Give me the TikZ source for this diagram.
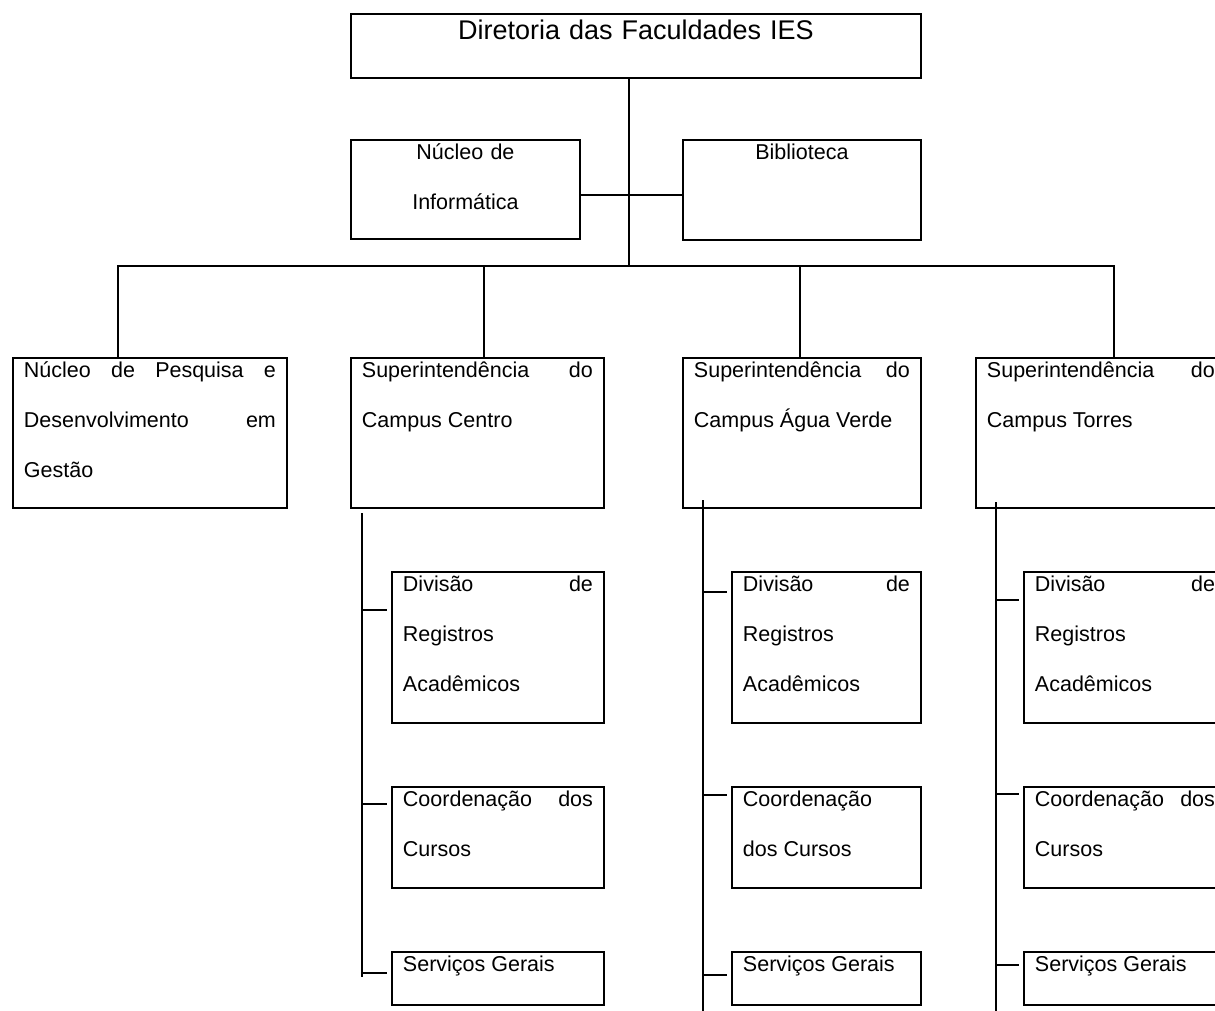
\documentclass[tikz,border=0pt]{standalone}
\usepackage{fontspec}
\setmainfont{Liberation Sans}
\usetikzlibrary{positioning}

\begin{document}
\begin{tikzpicture}[x=1pt, y=-1pt, line width=1.9pt, node distance=62pt,
    font=\fontsize{21.5}{50}\selectfont,
    orgbox/.style 2 args={draw, anchor=north west, inner xsep=11pt, inner ysep=0pt,
        text width=#1-22pt, text height=20pt, text depth=#2-20pt, align=justify}]
\useasboundingbox (0,0) rectangle (1215,1010);
\clip (0,0) rectangle (1215,1010);

    \node[orgbox={570}{64}, align=center, text height=26pt, text depth=38pt, font=\fontsize{27}{50}\selectfont] (diretoria) at (350,13) {Diretoria das Faculdades IES};
    \node[orgbox={229}{99}, align=center] (informatica) at (350,139) {Núcleo de\\Informática};
    \node[orgbox={238}{100}, align=center] (biblioteca) at (682,139) {Biblioteca};

    \node[orgbox={274}{150}] (pesquisa) at (12,357) {Núcleo de Pesquisa e\linebreak Desenvolvimento em\linebreak Gestão};
    \node[orgbox={253}{150}] (centro) at (350,357) {Superintendência do\linebreak Campus Centro};
    \node[orgbox={238}{150}] (aguaverde) at (682,357) {Superintendência do\linebreak Campus Água Verde};
    \node[orgbox={250}{150}] (torres) at (975,357) {Superintendência do\linebreak Campus Torres};

    % campus centro
    \node[orgbox={212}{151}, below right=62pt and 41pt of centro.south west, anchor=north west] (registros-centro) {Divisão de\linebreak Registros\\Acadêmicos};
    \node[orgbox={212}{101}, below=of registros-centro.south west, anchor=north west] (cursos-centro) {Coordenação dos\linebreak Cursos};
    \node[orgbox={212}{53}, below=of cursos-centro.south west, anchor=north west] (servicos-centro) {Serviços Gerais};

    % campus agua verde
    \node[orgbox={189}{151}, below right=62pt and 49pt of aguaverde.south west, anchor=north west] (registros-agua) {Divisão de\linebreak Registros\\Acadêmicos};
    \node[orgbox={189}{101}, below=of registros-agua.south west, anchor=north west] (cursos-agua) {Coordenação\\dos Cursos};
    \node[orgbox={189}{53}, below=of cursos-agua.south west, anchor=north west] (servicos-agua) {Serviços Gerais};

    % campus torres
    \node[orgbox={202}{151}, below right=62pt and 48pt of torres.south west, anchor=north west] (registros-torres) {Divisão de\linebreak Registros\\Acadêmicos};
    \node[orgbox={202}{101}, below=of registros-torres.south west, anchor=north west] (cursos-torres) {Coordenação dos\linebreak Cursos};
    \node[orgbox={202}{53}, below=of cursos-torres.south west, anchor=north west] (servicos-torres) {Serviços Gerais};

    \coordinate (juncao) at (629,266);
    \draw (diretoria.south -| juncao) -- (juncao);
    \draw ([yshift=-5pt]biblioteca.west -| informatica.east) -- ([yshift=-5pt]biblioteca.west);
    \draw ([xshift=-32pt]pesquisa.north) |- (juncao) -| ([xshift=13pt]torres.north);
    \draw ([xshift=6.5pt]centro.north) -- ([xshift=6.5pt]centro.north |- juncao);
    \draw ([xshift=-2pt]aguaverde.north) -- ([xshift=-2pt]aguaverde.north |- juncao);

    \coordinate (barra-centro) at (362,513);
    \coordinate (barra-agua) at (703,500);
    \coordinate (barra-torres) at (996,502);
    \draw (barra-centro) -- ++(0,464);
    \draw (barra-agua) -- ++(0,520);
    \draw (barra-torres) -- ++(0,518);

    \draw (barra-centro |- registros-centro.north) ++(0,39) -- ++(25,0);
    \draw (barra-centro |- cursos-centro.north) ++(0,18) -- ++(25,0);
    \draw (barra-centro |- servicos-centro.north) ++(0,22) -- ++(25,0);
    \draw (barra-agua |- registros-agua.north) ++(0,21) -- ++(24,0);
    \draw (barra-agua |- cursos-agua.north) ++(0,9) -- ++(24,0);
    \draw (barra-agua |- servicos-agua.north) ++(0,24) -- ++(24,0);
    \draw (barra-torres |- registros-torres.north) ++(0,29) -- ++(23,0);
    \draw (barra-torres |- cursos-torres.north) ++(0,8) -- ++(23,0);
    \draw (barra-torres |- servicos-torres.north) ++(0,14) -- ++(23,0);

\end{tikzpicture}
\end{document}
